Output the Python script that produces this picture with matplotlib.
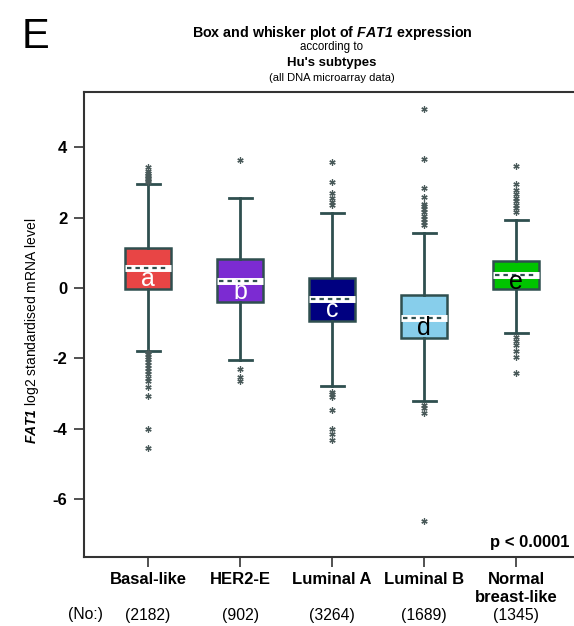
"""Box and whisker plot of FAT1 expression by Hu's intrinsic subtypes."""

import matplotlib

matplotlib.use("Agg")
import matplotlib.pyplot as plt
from matplotlib.transforms import blended_transform_factory

plt.rcParams["font.family"] = ["Liberation Sans", "DejaVu Sans"]
plt.rcParams["axes.unicode_minus"] = False
plt.rcParams["mathtext.fontset"] = "custom"
plt.rcParams["mathtext.rm"] = "Liberation Sans"
plt.rcParams["mathtext.it"] = "Liberation Sans:italic"
plt.rcParams["mathtext.bf"] = "Liberation Sans:bold"
plt.rcParams["mathtext.bfit"] = "Liberation Sans:bold:italic"

subtypes = ["Basal-like", "HER2-E", "Luminal A", "Luminal B", "Normal\nbreast-like"]
counts = [2182, 902, 3264, 1689, 1345]
group_letters = ["a", "b", "c", "d", "e"]

medians = [0.56, 0.20, -0.32, -0.84, 0.37]
q1 = [-0.03, -0.40, -0.94, -1.43, -0.04]
q3 = [1.15, 0.82, 0.29, -0.21, 0.77]
whisker_low = [-1.79, -2.05, -2.79, -3.20, -1.27]
whisker_high = [2.95, 2.55, 2.14, 1.57, 1.94]

fliers = [
    [3.00, 3.05, 3.10, 3.14, 3.18, 3.22, 3.27, 3.32, 3.45,
     -1.82, -1.88, -1.95, -2.02, -2.10, -2.18, -2.26, -2.35, -2.45, -2.55,
     -2.65, -2.80, -3.06, -4.00, -4.54],
    [3.64, -2.30, -2.52, -2.64],
    [2.36, 2.45, 2.55, 2.69, 3.00, 3.58,
     -2.95, -3.02, -3.09, -3.45, -3.99, -4.15, -4.32],
    [1.79, 1.88, 1.97, 2.06, 2.15, 2.24, 2.33, 2.40, 2.60, 2.83, 3.68, 5.08,
     -3.32, -3.42, -3.55, -6.62],
    [2.17, 2.27, 2.37, 2.47, 2.57, 2.67, 2.80, 2.97, 3.47,
     -1.38, -1.50, -1.62, -1.78, -1.95, -2.41],
]

box_colors = ["#e84545", "#7c2bd2", "#000080", "#87ceeb", "#00c400"]
letter_colors = ["white", "white", "white", "black", "black"]
edge = "#2f4f4f"

W, H = 574, 626
fig = plt.figure(figsize=(W / 100, H / 100), dpi=100)
ax = fig.add_axes([84 / W, 1 - 557 / H, 1 - 84 / W, (557 - 92) / H])

positions = list(range(1, len(subtypes) + 1))
stats = [
    {"med": m, "q1": a, "q3": b, "whislo": lo, "whishi": hi, "fliers": f}
    for m, a, b, lo, hi, f in zip(medians, q1, q3, whisker_low, whisker_high, fliers)
]
bp = ax.bxp(
    stats,
    positions=positions,
    widths=0.5,
    patch_artist=True,
    showfliers=True,
    boxprops=dict(edgecolor=edge, linewidth=1.8),
    whiskerprops=dict(color=edge, linewidth=2),
    capprops=dict(color=edge, linewidth=2),
    capwidths=0.25,
    medianprops=dict(color="white", linewidth=5, solid_capstyle="butt"),
    flierprops=dict(marker=(6, 2, 0), markersize=4.5, markeredgecolor="#4a5a5a",
                    markeredgewidth=0.9, linestyle="none"),
)
for patch, color in zip(bp["boxes"], box_colors):
    patch.set_facecolor(color)
    patch.set_zorder(2)

# dark dotted line through the white median band
for pos, med in zip(positions, medians):
    ax.plot([pos - 0.23, pos + 0.23], [med, med], color=edge, linewidth=1.6,
            linestyle=(0, (2, 1.8)), zorder=4)

for pos, letter, color, med, lo in zip(positions, group_letters, letter_colors, medians, q1):
    ax.text(pos, (med + lo) / 2, letter, color=color, fontsize=18,
            ha="center", va="center", zorder=5)

ax.set_xlim(0.304, 5.63)
ax.set_ylim(-7.64, 5.57)
ax.set_yticks([4, 2, 0, -2, -4, -6])
ax.set_xticks(positions)
ax.set_xticklabels(subtypes, fontsize=12, fontweight="bold", linespacing=1.2)
for lbl in ax.get_yticklabels():
    lbl.set_fontsize(12)
    lbl.set_fontweight("bold")
ax.tick_params(axis="both", direction="out", length=7, width=1.2, color="#333333")
ax.tick_params(axis="y", pad=5)
ax.tick_params(axis="x", pad=4)

for side in ["left", "top", "bottom"]:
    ax.spines[side].set_color("#333333")
    ax.spines[side].set_linewidth(1.5)
ax.spines["right"].set_visible(False)

ax.text(0.99, 0.015, "p < 0.0001", transform=ax.transAxes, ha="right", va="bottom",
        fontsize=12, fontweight="bold")

# sample sizes under each category
trans = blended_transform_factory(ax.transData, ax.transAxes)
for pos, n in zip(positions, counts):
    ax.text(pos, -0.126, f"({n})", transform=trans, ha="center", va="center",
            fontsize=11.3, clip_on=False)
fig.text(85 / W, 1 - 615 / H, "(No:)", ha="center", va="center", fontsize=11.3)

fig.text(32 / W, 1 - 331 / H,
         r"$\mathbfit{FAT1}$ log2 standardised mRNA level",
         rotation=90, ha="center", va="center", fontsize=10)

fig.text(22 / W, 1 - 37 / H, "E", fontsize=30, ha="left", va="center")
fig.text(332 / W, 1 - 33 / H, r"Box and whisker plot of $\mathbfit{FAT1}$ expression",
         ha="center", va="center", fontsize=10.3, fontweight="bold")
fig.text(332 / W, 1 - 47 / H, "according to", ha="center", va="center", fontsize=8.3)
fig.text(332 / W, 1 - 63 / H, "Hu's subtypes", ha="center", va="center",
         fontsize=9.5, fontweight="bold")
fig.text(332 / W, 1 - 78 / H, "(all DNA microarray data)", ha="center", va="center",
         fontsize=8)

fig.savefig("out.png", dpi=100)
